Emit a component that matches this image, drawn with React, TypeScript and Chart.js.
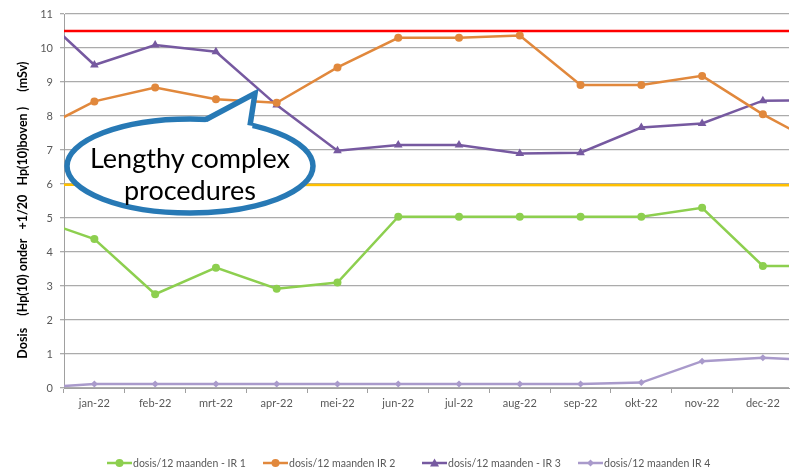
import React, { useEffect, useRef } from 'react';
import { Chart, registerables } from 'chart.js';

Chart.register(...registerables);

// Visible categories
const months = ['jan-22', 'feb-22', 'mrt-22', 'apr-22', 'mei-22', 'jun-22', 'jul-22', 'aug-22', 'sep-22', 'okt-22', 'nov-22', 'dec-22'];

// Series values: first value = dec-21, last value = jan-23 (outside the visible window, lines run off the edges)
const ir1 = [5.0, 4.38, 2.76, 3.54, 2.92, 3.1, 5.04, 5.04, 5.04, 5.04, 5.04, 5.3, 3.59, 3.59];
const ir2 = [7.51, 8.43, 8.84, 8.49, 8.39, 9.43, 10.3, 10.3, 10.37, 8.91, 8.91, 9.18, 8.05, 7.09];
const ir3 = [11.16, 9.5, 10.09, 9.89, 8.32, 6.98, 7.15, 7.15, 6.9, 6.92, 7.66, 7.78, 8.45, 8.47];
const ir4 = [0.0, 0.12, 0.12, 0.12, 0.12, 0.12, 0.12, 0.12, 0.12, 0.12, 0.16, 0.79, 0.89, 0.8];

// Reference lines
const redLimit = [10.5, 10.5];
const yellowLimit = [5.98, 5.96];

const seriesNames = ['dosis/12 maanden - IR 1', 'dosis/12 maanden IR 2', 'dosis/12 maanden - IR 3', 'dosis/12 maanden IR 4'];
const yTitle = 'Dosis    (Hp(10) onder   +1/20   Hp(10)boven )     (mSv)      ';
const calloutLines = ['Lengthy complex', 'procedures'];

const COLORS = ['#8DCF4F', '#E1883C', '#7659A0', '#A99ACB'];
const MARKERS = ['circle', 'circle', 'triangle', 'rectRot'];
const RADII = [4, 4, 5, 3.5];
const FONT = 'Lato, "Open Sans", sans-serif';
const LEGEND_X = [107, 263, 422, 578];
const LEGEND_Y = 463;

const toPts = (arr: number[]) => arr.map((v, i) => ({ x: i - 1, y: v }));

const legendPlugin = {
  id: 'canvasLegend',
  afterDraw(chart: any) {
    const ctx: CanvasRenderingContext2D = chart.ctx;
    ctx.save();
    ctx.font = `10.5px ${FONT}`;
    ctx.textBaseline = 'middle';
    ctx.textAlign = 'left';
    seriesNames.forEach((name, k) => {
      const x = LEGEND_X[k];
      const y = LEGEND_Y;
      const c = COLORS[k];
      ctx.strokeStyle = c;
      ctx.fillStyle = c;
      ctx.lineWidth = 2.5;
      ctx.beginPath();
      ctx.moveTo(x, y);
      ctx.lineTo(x + 25, y);
      ctx.stroke();
      const cx = x + 12.5;
      ctx.beginPath();
      if (MARKERS[k] === 'circle') {
        ctx.arc(cx, y, 4, 0, Math.PI * 2);
      } else if (MARKERS[k] === 'triangle') {
        ctx.moveTo(cx, y - 4.5);
        ctx.lineTo(cx + 4.5, y + 3.5);
        ctx.lineTo(cx - 4.5, y + 3.5);
        ctx.closePath();
      } else {
        ctx.moveTo(cx, y - 3.5);
        ctx.lineTo(cx + 3.5, y);
        ctx.lineTo(cx, y + 3.5);
        ctx.lineTo(cx - 3.5, y);
        ctx.closePath();
      }
      ctx.fill();
      ctx.fillStyle = '#595959';
      ctx.fillText(name, x + 26, y + 0.5);
    });
    ctx.restore();
  },
};

export default function App() {
  const ref = useRef<HTMLCanvasElement | null>(null);

  useEffect(() => {
    if (!ref.current) return;
    const series = [ir1, ir2, ir3, ir4];
    const datasets: any[] = series.map((s, k) => ({
      label: seriesNames[k],
      data: toPts(s),
      borderColor: COLORS[k],
      backgroundColor: COLORS[k],
      borderWidth: 2.5,
      pointStyle: MARKERS[k],
      pointRadius: RADII[k],
      pointBorderWidth: 0,
      tension: 0,
    }));
    datasets.push({
      label: 'limit-red',
      data: [{ x: -1, y: redLimit[0] }, { x: 12, y: redLimit[1] }],
      borderColor: '#FF0000',
      borderWidth: 2.5,
      pointRadius: 0,
    });
    datasets.push({
      label: 'limit-yellow',
      data: [{ x: -1, y: yellowLimit[0] }, { x: 12, y: yellowLimit[1] }],
      borderColor: '#FFC000',
      borderWidth: 2.5,
      pointRadius: 0,
    });

    const chart = new Chart(ref.current, {
      type: 'line',
      data: { datasets },
      plugins: [legendPlugin],
      options: {
        animation: false,
        responsive: false,
        maintainAspectRatio: false,
        layout: { padding: { top: 14, bottom: 55, left: 0, right: 0 } },
        plugins: { legend: { display: false }, tooltip: { enabled: false } },
        scales: {
          x: {
            type: 'linear',
            min: -0.5,
            max: 11.43,
            afterBuildTicks: (scale: any) => {
              scale.ticks = months.map((_, i) => ({ value: i }));
            },
            afterFit: (scale: any) => {
              scale.height = 30;
            },
            ticks: {
              autoSkip: false,
              maxRotation: 0,
              padding: 4,
              color: '#595959',
              font: { family: FONT, size: 11 },
              callback: (v: any) => months[v as number] ?? '',
            },
            grid: { offset: true, drawOnChartArea: false, tickLength: 5, color: '#A0A0A0' },
            border: { display: true, color: '#A0A0A0' },
          },
          y: {
            min: 0,
            max: 11,
            afterFit: (scale: any) => {
              scale.width = 64;
            },
            ticks: {
              stepSize: 1,
              padding: 7,
              color: '#595959',
              font: { family: FONT, size: 11 },
            },
            grid: { color: '#ABABAB', lineWidth: 1.3, tickLength: 4 },
            border: { display: true, color: '#A0A0A0' },
            title: {
              display: true,
              text: yTitle,
              color: '#000000',
              font: { family: FONT, size: 12.5, weight: 'bold' },
              padding: { top: 15, bottom: 0 },
            },
          },
        },
      },
    });
    return () => chart.destroy();
  }, []);

  return (
    <div style={{ position: 'absolute', left: 0, top: 0, width: 794, height: 473, background: '#fff', overflow: 'hidden' }}>
      <canvas ref={ref} width={794} height={473} style={{ display: 'block', width: 794, height: 473 }} />
      <svg width={794} height={473} style={{ position: 'absolute', left: 0, top: 0 }}>
        <ellipse cx={190} cy={166} rx={123} ry={47} fill="#fff" stroke="#2779B5" strokeWidth={5.5} />
        <polygon points="203,124 255,93.5 252,130" fill="#fff" />
        <polyline points="206,119.5 255,93.5 250,125.5" fill="none" stroke="#2779B5" strokeWidth={5.5} strokeLinejoin="miter" />
        <text x={190} y={168} textAnchor="middle" fontFamily={FONT} fontSize={27} fill="#000">{calloutLines[0]}</text>
        <text x={190} y={200} textAnchor="middle" fontFamily={FONT} fontSize={27} fill="#000">{calloutLines[1]}</text>
      </svg>
    </div>
  );
}
